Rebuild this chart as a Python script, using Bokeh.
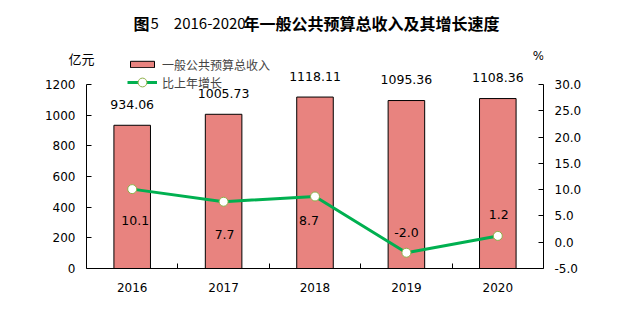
from bokeh.plotting import figure
from bokeh.models import (Range1d, LinearAxis, FixedTicker, ColumnDataSource, Label,
                          LabelSet, Legend, LegendItem, NumeralTickFormatter)
from bokeh.core.properties import value
from bokeh.embed import file_html
from bokeh.resources import INLINE

years = ["2016", "2017", "2018", "2019", "2020"]
revenue = [934.06, 1005.73, 1118.11, 1095.36, 1108.36]
growth = [10.1, 7.7, 8.7, -2.0, 1.2]
revenue_text = ["934.06", "1005.73", "1118.11", "1095.36", "1108.36"]
growth_text = ["10.1", "7.7", "8.7", "-2.0", "1.2"]
left_ticks = [0, 200, 400, 600, 800, 1000, 1200]
right_ticks = [-5, 0, 5, 10, 15, 20, 25, 30]
left_bounds = (0, 1200)
right_bounds = (-5, 30)
left_unit = "亿元"
right_unit = "%"

# style: pixel offsets for growth labels
growth_label_dy = [-31, -33, -24, 20, 21]
growth_label_dx = [3, 1, -6, 0, 1]

# layout (pixels)
W, H = 625, 335
FL, FR, FB = 86, 543, 268      # frame left / right / bottom
AXIS_TOP = 84                  # canvas y of the top of the axes
UNIT_Y = 58                    # canvas y of the left unit text
frame_h = FB                   # frame reaches canvas top
axis_h = FB - AXIS_TOP
px_per_unit = axis_h / (left_bounds[1] - left_bounds[0])
y_end = left_bounds[0] + frame_h / px_per_unit
y2_end = right_bounds[0] + (right_bounds[1] - right_bounds[0]) * frame_h / axis_h
unit_pos = round(left_bounds[0] + (FB - UNIT_Y) / px_per_unit)

xs = [i + 0.5 for i in range(len(years))]

FONT = "DejaVu Sans"
CJK = "Noto Sans CJK SC"

p = figure(width=W, height=H, output_backend="svg", toolbar_location=None,
           x_range=Range1d(0, len(years)), y_range=Range1d(left_bounds[0], y_end),
           min_border_left=FL, min_border_right=W - FR, min_border_top=0,
           min_border_bottom=H - FB,
           y_axis_location=None, x_axis_location=None)
p.outline_line_color = None
p.xgrid.visible = False
p.ygrid.visible = False
p.background_fill_color = "white"
p.border_fill_color = "white"

p.extra_y_ranges = {"pct": Range1d(right_bounds[0], y2_end)}

# axes
xaxis = LinearAxis(ticker=FixedTicker(ticks=xs, minor_ticks=[1, 2, 3, 4]),
                   major_label_overrides={x: y for x, y in zip(xs, years)})
xaxis.major_tick_in = 0
xaxis.major_tick_out = 0
xaxis.minor_tick_in = 5
xaxis.minor_tick_out = 0
xaxis.major_label_standoff = 14
xaxis.major_label_text_font = FONT
xaxis.major_label_text_font_size = "12px"
xaxis.major_label_text_color = "#000000"
p.add_layout(xaxis, "below")

laxis = LinearAxis(ticker=FixedTicker(ticks=left_ticks, minor_ticks=[]), bounds=left_bounds)
laxis.major_tick_in = 5
laxis.major_tick_out = 0
laxis.major_label_standoff = 11
laxis.major_label_text_font = FONT
laxis.major_label_text_font_size = "12px"
laxis.major_label_text_color = "#000000"
p.add_layout(laxis, "left")

# outer left axis that carries only the unit text
uaxis = LinearAxis(ticker=FixedTicker(ticks=[unit_pos], minor_ticks=[]),
                   major_label_overrides={unit_pos: left_unit})
uaxis.axis_line_color = None
uaxis.major_tick_line_color = None
uaxis.major_tick_in = 0
uaxis.major_tick_out = 0
uaxis.major_label_standoff = -53
uaxis.major_label_text_font = CJK
uaxis.major_label_text_font_size = "13px"
uaxis.major_label_text_color = "#000000"
p.add_layout(uaxis, "left")

raxis = LinearAxis(y_range_name="pct", ticker=FixedTicker(ticks=right_ticks, minor_ticks=[]),
                   formatter=NumeralTickFormatter(format="0.0"), bounds=right_bounds)
raxis.major_tick_in = 5
raxis.major_tick_out = 0
raxis.major_label_standoff = 11
raxis.major_label_text_font = FONT
raxis.major_label_text_font_size = "12px"
raxis.major_label_text_color = "#000000"
p.add_layout(raxis, "right")

src = ColumnDataSource(dict(x=xs, rev=revenue, g=growth, rt=revenue_text, gt=growth_text,
                            dy=growth_label_dy, dx=growth_label_dx))

bars = p.vbar(x="x", top="rev", bottom=0, width=0.4, source=src,
              fill_color="#E8837F", line_color="black", line_width=1)
line = p.line(x="x", y="g", source=src, y_range_name="pct", line_color="#00B050", line_width=3)
pts = p.scatter(x="x", y="g", source=src, y_range_name="pct", size=9, marker="circle",
                fill_color="white", line_color="#8DB048", line_width=1)

p.add_layout(LabelSet(x="x", y="rev", text="rt", source=src, y_offset=21,
                      text_align="center", text_baseline="middle",
                      text_font=value(FONT), text_font_size=value("12.5px"), text_color="#000000"))
p.add_layout(LabelSet(x="x", y="g", text="gt", source=src, y_range_name="pct",
                      x_offset="dx", y_offset="dy",
                      text_align="center", text_baseline="middle",
                      text_font=value(FONT), text_font_size=value("12.5px"), text_color="#000000"))

legend_style = dict(orientation="vertical", glyph_width=30, label_height=18,
                    label_standoff=5, padding=0, margin=0, spacing=0,
                    label_text_font=CJK, label_text_font_size="12px",
                    border_line_color=None, background_fill_alpha=0)
legend1 = Legend(items=[LegendItem(label="一般公共预算总收入", renderers=[bars])],
                 location=(127 - FL, FB - 73), glyph_height=8, **legend_style)
legend2 = Legend(items=[LegendItem(label="比上年增长", renderers=[line, pts])],
                 location=(127 - FL, FB - 93), glyph_height=22, **legend_style)
p.add_layout(legend1, "center")
p.add_layout(legend2, "center")


def add_text(cx, cy, text, font, size, bold=False, align="left"):
    # cx, cy: canvas pixel position; screen units are measured from frame bottom-left
    p.add_layout(Label(x=cx - FL, y=FB - cy, x_units="screen", y_units="screen", text=text,
                       text_font=font, text_font_size=size,
                       text_font_style="bold" if bold else "normal",
                       text_baseline="middle", text_align=align, text_color="#000000"))


add_text(133, 22, "图", CJK, "16px", bold=True)
add_text(150, 22, "5　2016-2020", CJK, "15px")
add_text(243, 22, "年一般公共预算总收入及其增长速度", CJK, "16px", bold=True)
add_text(538, 55, right_unit, FONT, "12px", align="center")

open("out.html", "w").write(file_html(p, INLINE))
